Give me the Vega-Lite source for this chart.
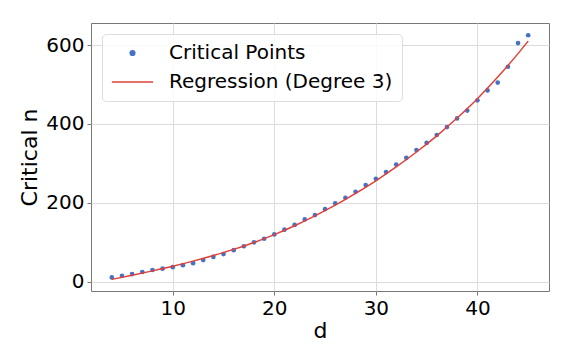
{
  "$schema": "https://vega.github.io/schema/vega-lite/v6.json",
  "autosize": "none",
  "width": 458,
  "height": 268,
  "padding": {"left": 91, "top": 23, "right": 25, "bottom": 61},
  "background": "white",
  "config": {
    "font": "DejaVu Sans",
    "view": {"stroke": "#777777", "strokeWidth": 1},
    "axis": {
      "domain": false,
      "grid": true,
      "gridColor": "#dcdcdc",
      "gridWidth": 1,
      "tickColor": "#777777",
      "tickSize": 4,
      "labelFont": "DejaVu Sans",
      "labelFontSize": 20,
      "labelColor": "black",
      "labelPadding": 3,
      "titleFont": "DejaVu Sans",
      "titleFontSize": 22,
      "titleFontWeight": "normal",
      "titleColor": "black"
    }
  },
  "datasets": {
    "pts": [
      {"d": 4, "n": 11}, {"d": 5, "n": 15}, {"d": 6, "n": 19.5}, {"d": 7, "n": 24.6},
      {"d": 8, "n": 29.7}, {"d": 9, "n": 33}, {"d": 10, "n": 37}, {"d": 11, "n": 42},
      {"d": 12, "n": 47}, {"d": 13, "n": 55}, {"d": 14, "n": 63}, {"d": 15, "n": 70},
      {"d": 16, "n": 80}, {"d": 17, "n": 90}, {"d": 18, "n": 100}, {"d": 19, "n": 109},
      {"d": 20, "n": 120}, {"d": 21, "n": 132}, {"d": 22, "n": 144}, {"d": 23, "n": 158},
      {"d": 24, "n": 169}, {"d": 25, "n": 184}, {"d": 26, "n": 199}, {"d": 27, "n": 213},
      {"d": 28, "n": 228}, {"d": 29, "n": 245}, {"d": 30, "n": 261}, {"d": 31, "n": 278},
      {"d": 32, "n": 297}, {"d": 33, "n": 314}, {"d": 34, "n": 334}, {"d": 35, "n": 352},
      {"d": 36, "n": 372}, {"d": 37, "n": 392}, {"d": 38, "n": 414}, {"d": 39, "n": 434},
      {"d": 40, "n": 460}, {"d": 41, "n": 485}, {"d": 42, "n": 505}, {"d": 43, "n": 545},
      {"d": 44, "n": 605}, {"d": 45, "n": 625}
    ],
    "fit": [
      {"d": 4, "n": 6}, {"d": 6, "n": 16.5}, {"d": 8, "n": 27.5}, {"d": 10, "n": 39.3},
      {"d": 12, "n": 52.3}, {"d": 14, "n": 66.5}, {"d": 16, "n": 82}, {"d": 18, "n": 99.5},
      {"d": 20, "n": 119.5}, {"d": 22, "n": 142}, {"d": 24, "n": 167}, {"d": 26, "n": 194},
      {"d": 28, "n": 224}, {"d": 30, "n": 256}, {"d": 32, "n": 291}, {"d": 34, "n": 329},
      {"d": 36, "n": 370}, {"d": 38, "n": 415}, {"d": 40, "n": 464}, {"d": 42, "n": 518.8},
      {"d": 44, "n": 578.4}, {"d": 45, "n": 610}
    ]
  },
  "layer": [
    {
      "data": {"name": "pts"},
      "transform": [{"calculate": "'Critical Points'", "as": "series"}],
      "mark": {"type": "point", "filled": true, "opacity": 1},
      "encoding": {
        "x": {"field": "d", "type": "quantitative", "title": "d",
              "scale": {"domain": [1.95, 47.05], "nice": false, "zero": false},
              "axis": {"values": [10, 20, 30, 40], "titlePadding": 2}},
        "y": {"field": "n", "type": "quantitative", "title": "Critical n",
              "scale": {"domain": [-23.5, 656], "nice": false, "zero": false},
              "axis": {"values": [0, 200, 400, 600], "titlePadding": 4}},
        "color": {
          "field": "series", "type": "ordinal",
          "scale": {"domain": ["Critical Points", "Regression (Degree 3)"], "range": ["#4472c4", "#e0403a"]},
          "legend": {
            "title": null,
            "orient": "none",
            "legendX": 11,
            "legendY": 11,
            "padding": 9,
            "rowPadding": 9,
            "clipHeight": 20,
            "labelOffset": 15,
            "labelLimit": 400,
            "labelFont": "DejaVu Sans",
            "labelFontSize": 20,
            "labelColor": "black",
            "strokeColor": "#dddddd",
            "fillColor": "rgba(255,255,255,0.85)",
            "cornerRadius": 4,
            "encode": {
              "symbols": {
                "update": {
                  "stroke": {"scale": "color", "field": "value"},
                  "strokeWidth": {"value": 1.5}
                }
              }
            }
          }
        },
        "shape": {
          "field": "series", "type": "ordinal",
          "scale": {"domain": ["Critical Points", "Regression (Degree 3)"], "range": ["circle", "stroke"]},
          "legend": {"title": null}
        },
        "size": {
          "field": "series", "type": "ordinal",
          "scale": {"domain": ["Critical Points", "Regression (Degree 3)"], "range": [22, 1700]},
          "legend": {"title": null}
        }
      }
    },
    {
      "data": {"name": "fit"},
      "transform": [{"calculate": "'Regression (Degree 3)'", "as": "series"}],
      "mark": {"type": "line", "strokeWidth": 1.5, "interpolate": "monotone"},
      "encoding": {
        "x": {"field": "d", "type": "quantitative"},
        "y": {"field": "n", "type": "quantitative"},
        "color": {"field": "series", "type": "ordinal"}
      }
    }
  ]
}
